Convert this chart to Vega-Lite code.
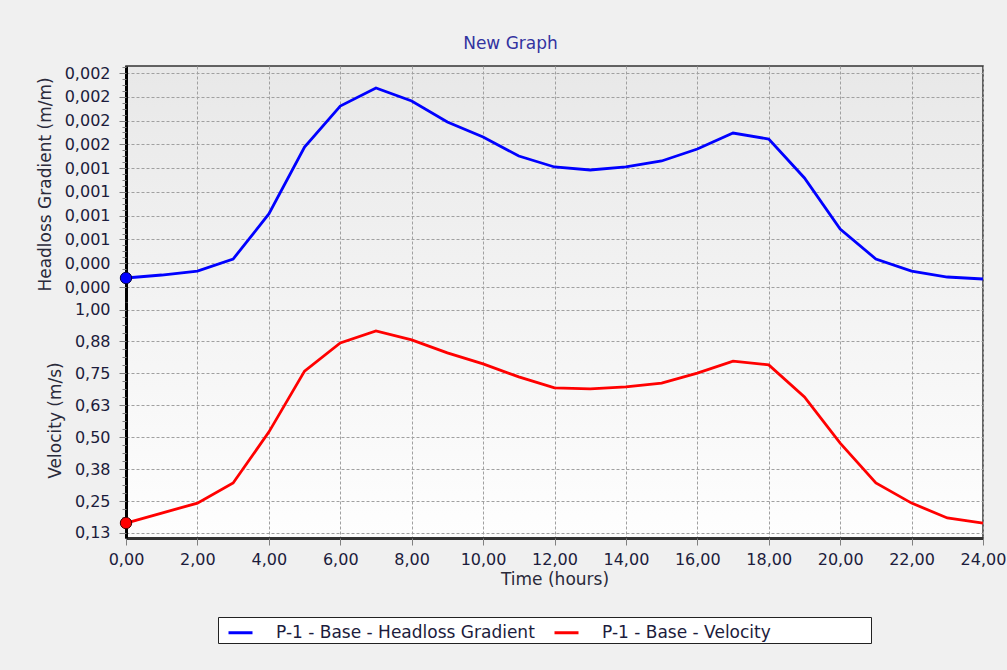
{
  "$schema": "https://vega.github.io/schema/vega-lite/v6.json",
  "width": 857,
  "height": 472,
  "autosize": {"type": "none"},
  "padding": {"left": 126, "top": 66, "right": 24, "bottom": 132},
  "background": "#f0f0f0",
  "config": {
    "font": "DejaVu Sans",
    "view": {
      "fill": {"gradient": "linear", "x1": 0, "y1": 0, "x2": 0, "y2": 1, "stops": [{"offset": 0, "color": "#e8e8e8"}, {"offset": 1, "color": "#fefefe"}]},
      "stroke": "#333333",
      "strokeWidth": 1.5
    },
    "axis": {
      "labelFontSize": 16,
      "titleFontSize": 17,
      "titleFontWeight": "normal",
      "labelColor": "#1c1c3c",
      "titleColor": "#2a2a3a",
      "tickColor": "#808080",
      "gridColor": "#a0a0a0",
      "gridDash": [3, 2],
      "gridWidth": 1
    }
  },
  "title": {
    "text": "New Graph",
    "fontSize": 17,
    "fontWeight": "normal",
    "color": "#3333a0",
    "anchor": "middle",
    "offset": 12,
    "dx": -44
  },
  "data": {
    "values": [
      {"t": 0, "headloss": 0.0000946, "velocity": 0.164},
      {"t": 1, "headloss": 0.000126, "velocity": 0.203},
      {"t": 2, "headloss": 0.000168, "velocity": 0.242},
      {"t": 3, "headloss": 0.000294, "velocity": 0.321},
      {"t": 4, "headloss": 0.000768, "velocity": 0.52},
      {"t": 5, "headloss": 0.001472, "velocity": 0.759},
      {"t": 6, "headloss": 0.001903, "velocity": 0.869},
      {"t": 7, "headloss": 0.002092, "velocity": 0.916},
      {"t": 8, "headloss": 0.001956, "velocity": 0.881},
      {"t": 9, "headloss": 0.001735, "velocity": 0.83},
      {"t": 10, "headloss": 0.001577, "velocity": 0.787},
      {"t": 11, "headloss": 0.001377, "velocity": 0.736},
      {"t": 12, "headloss": 0.001262, "velocity": 0.693},
      {"t": 13, "headloss": 0.00123, "velocity": 0.689},
      {"t": 14, "headloss": 0.001262, "velocity": 0.697},
      {"t": 15, "headloss": 0.001325, "velocity": 0.712},
      {"t": 16, "headloss": 0.001451, "velocity": 0.751},
      {"t": 17, "headloss": 0.001619, "velocity": 0.798},
      {"t": 18, "headloss": 0.001556, "velocity": 0.783},
      {"t": 19, "headloss": 0.001146, "velocity": 0.658},
      {"t": 20, "headloss": 0.00061, "velocity": 0.477},
      {"t": 21, "headloss": 0.000294, "velocity": 0.321},
      {"t": 22, "headloss": 0.000168, "velocity": 0.242},
      {"t": 23, "headloss": 0.000105, "velocity": 0.184},
      {"t": 24, "headloss": 0.000084, "velocity": 0.164}
    ]
  },
  "layer": [
    {
      "mark": {"type": "point", "opacity": 0},
      "encoding": {
        "x": {
          "field": "t", "type": "quantitative",
          "scale": {"domain": [0, 24], "nice": false, "zero": false},
          "axis": {
            "orient": "bottom",
            "values": [0, 2, 4, 6, 8, 10, 12, 14, 16, 18, 20, 22, 24],
            "labels": false, "ticks": false, "domain": false, "grid": true, "title": null
          }
        },
        "y": {
          "field": "velocity", "type": "quantitative",
          "scale": {"domain": [0, 1], "nice": false, "zero": false},
          "axis": null
        }
      }
    },
    {
      "layer": [
        {
          "mark": {"type": "line", "strokeWidth": 2.8},
          "encoding": {
            "x": {
              "field": "t", "type": "quantitative",
              "axis": {
                "orient": "bottom",
                "values": [0, 2, 4, 6, 8, 10, 12, 14, 16, 18, 20, 22, 24],
                "labelExpr": "replace(format(datum.value, '.2f'), '.', ',')",
                "title": "Time (hours)",
                "grid": false,
                "domainColor": "#333333",
                "domainWidth": 3,
                "tickSize": 7,
                "labelPadding": 6,
                "titlePadding": 4,
                "labelFlush": false
              }
            },
            "y": {
              "field": "headloss", "type": "quantitative",
              "scale": {"domain": [-0.0001577, 0.0023236], "range": [236, 0], "nice": false, "zero": false},
              "axis": {
                "orient": "left",
                "values": [0, 0.00025, 0.0005, 0.00075, 0.001, 0.00125, 0.0015, 0.00175, 0.002, 0.00225],
                "labelExpr": "replace(format(datum.value, '.3f'), '.', ',')",
                "title": "Headloss Gradient (m/m)",
                "grid": true,
                "domainColor": "#000000",
                "domainWidth": 3,
                "tickSize": 7,
                "labelPadding": 9,
                "titlePadding": 10
              }
            },
            "color": {
              "datum": "P-1 - Base - Headloss Gradient",
              "type": "nominal",
              "scale": {"domain": ["P-1 - Base - Headloss Gradient", "P-1 - Base - Velocity"], "range": ["#0000ff", "#ff0000"]},
              "legend": {
                "orient": "none",
                "legendX": 92,
                "legendY": 551,
                "direction": "horizontal",
                "columns": 2,
                "title": "\u00a0",
                "titleOrient": "right",
                "titlePadding": 98,
                "titleFontSize": 17,
                "symbolType": "stroke",
                "symbolSize": 576,
                "symbolStrokeWidth": 3,
                "symbolOffset": 7,
                "labelFontSize": 17,
                "labelColor": "#1c1c3c",
                "labelLimit": 600,
                "labelOffset": 22,
                "columnPadding": 11,
                "padding": 2,
                "fillColor": "#ffffff",
                "strokeColor": "#222222"
              }
            }
          }
        },
        {
          "transform": [{"filter": "datum.t == 0"}],
          "mark": {"type": "point", "filled": true, "size": 130, "color": "#0000ff", "stroke": "#000044", "strokeWidth": 1, "opacity": 1},
          "encoding": {
            "x": {"field": "t", "type": "quantitative"},
            "y": {
              "field": "headloss", "type": "quantitative",
              "axis": {
                "orient": "left",
                "values": [0, 0.0000625, 0.000125, 0.0001875, 0.00025, 0.0003125, 0.000375, 0.0004375, 0.0005, 0.0005625, 0.000625, 0.0006875, 0.00075, 0.0008125, 0.000875, 0.0009375, 0.001, 0.0010625, 0.001125, 0.0011875, 0.00125, 0.0013125, 0.001375, 0.0014375, 0.0015, 0.0015625, 0.001625, 0.0016875, 0.00175, 0.0018125, 0.001875, 0.0019375, 0.002, 0.0020625, 0.002125, 0.0021875, 0.00225, 0.0023125],
                "labels": false, "grid": false, "domain": false, "tickSize": 4, "title": null
              }
            }
          }
        }
      ],
      "resolve": {"axis": {"y": "independent"}}
    },
    {
      "layer": [
        {
          "mark": {"type": "line", "strokeWidth": 2.8},
          "encoding": {
            "x": {
              "field": "t", "type": "quantitative",
              "axis": {
                "orient": "bottom",
                "values": [0, 0.5, 1, 1.5, 2, 2.5, 3, 3.5, 4, 4.5, 5, 5.5, 6, 6.5, 7, 7.5, 8, 8.5, 9, 9.5, 10, 10.5, 11, 11.5, 12, 12.5, 13, 13.5, 14, 14.5, 15, 15.5, 16, 16.5, 17, 17.5, 18, 18.5, 19, 19.5, 20, 20.5, 21, 21.5, 22, 22.5, 23, 23.5, 24],
                "labels": false, "grid": false, "domain": false, "tickSize": 4, "title": null
              }
            },
            "y": {
              "field": "velocity", "type": "quantitative",
              "scale": {"domain": [0.1054, 1.0294], "range": [472, 236], "nice": false, "zero": false},
              "axis": {
                "orient": "left",
                "values": [0.125, 0.25, 0.375, 0.5, 0.625, 0.75, 0.875, 1.0],
                "labelExpr": "replace(format(datum.value, '.2f'), '.', ',')",
                "title": "Velocity (m/s)",
                "grid": true,
                "domainColor": "#000000",
                "domainWidth": 3,
                "tickSize": 7,
                "labelPadding": 9,
                "titlePadding": 10
              }
            },
            "color": {"datum": "P-1 - Base - Velocity", "type": "nominal"}
          }
        },
        {
          "transform": [{"filter": "datum.t == 0"}],
          "mark": {"type": "point", "filled": true, "size": 130, "color": "#ff0000", "stroke": "#440000", "strokeWidth": 1, "opacity": 1},
          "encoding": {
            "x": {"field": "t", "type": "quantitative"},
            "y": {
              "field": "velocity", "type": "quantitative",
              "axis": {
                "orient": "left",
                "values": [0.125, 0.15625, 0.1875, 0.21875, 0.25, 0.28125, 0.3125, 0.34375, 0.375, 0.40625, 0.4375, 0.46875, 0.5, 0.53125, 0.5625, 0.59375, 0.625, 0.65625, 0.6875, 0.71875, 0.75, 0.78125, 0.8125, 0.84375, 0.875, 0.90625, 0.9375, 0.96875, 1.0],
                "labels": false, "grid": false, "domain": false, "tickSize": 4, "title": null
              }
            }
          }
        }
      ],
      "resolve": {"axis": {"y": "independent"}}
    }
  ],
  "resolve": {"scale": {"y": "independent"}, "axis": {"x": "independent", "y": "independent"}}
}
